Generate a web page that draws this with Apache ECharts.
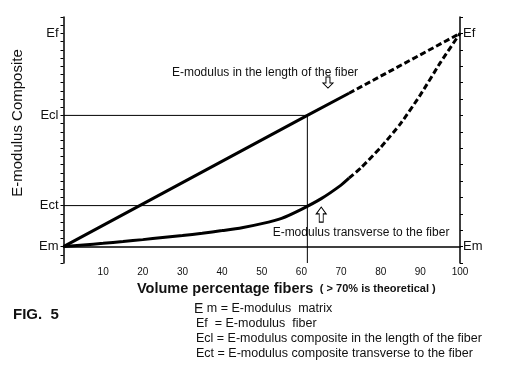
<!DOCTYPE html>
<html><head><meta charset="utf-8">
<script src="https://cdn.jsdelivr.net/npm/echarts@6/dist/echarts.min.js"></script>
<style>html,body{margin:0;padding:0;background:#fff}#c{width:523px;height:373px}</style>
</head><body><div id="c"></div>
<script>
// ---- data ----
const yLeftLabels = {0: 'Em', 5: 'Ect', 16: 'Ecl', 26: 'Ef'};
const yRightLabels = {0: 'Em', 26: 'Ef'};
const xTickLabels = [10, 20, 30, 40, 50, 60, 70, 80, 90, 100];
const longitudinalSolid = [[0, 0], [61.5, 16], [72, 18.7]];
const longitudinalDashed = [[72, 18.7], [100, 26]];
const transverseSolid = [[0, 0], [5, 0.2], [10, 0.4], [15, 0.62], [20, 0.85], [25, 1.1], [30, 1.35], [35, 1.63], [40, 1.95], [45, 2.3], [50, 2.8], [55, 3.45], [60, 4.55], [65, 5.85], [70, 7.5], [72, 8.34]];
const transverseDashed = [[72, 8.34], [75, 9.6], [80, 12.1], [85, 15.0], [90, 18.5], [95, 22.4], [100, 26]];
const eclGuide = [[0, 16], [61.5, 16], [61.5, -2]];
const ectGuide = [[0, 5], [61.5, 5]];
const arrowLongitudinal = [66.7, 20.0];
const arrowTransverse = [65, 3.9];

const FONT = "'Liberation Sans', Arial, sans-serif";
const arrowPath = 'path://M3,0 L7,0 L7,6 L10,6 L5,11 L0,6 L3,6 Z';

const chart = echarts.init(document.getElementById('c'), null, {renderer: 'canvas'});
const lineBase = {type: 'line', symbol: 'none', silent: true, z: 3};
chart.setOption({
  animation: false,
  backgroundColor: '#fff',
  grid: {left: 63.5, right: 63, top: 17, bottom: 110, containLabel: false},
  xAxis: {
    type: 'value', min: 0, max: 100, interval: 10,
    axisLine: {lineStyle: {color: '#000', width: 1.5}},
    axisTick: {show: false},
    splitLine: {show: false},
    axisLabel: {
      color: '#111', fontSize: 10, fontFamily: FONT, margin: 4,
      formatter: v => xTickLabels.indexOf(v) >= 0 ? String(v) : ''
    }
  },
  yAxis: [{
    type: 'value', min: -2, max: 28, interval: 1, position: 'left',
    axisLine: {show: true, lineStyle: {color: '#000', width: 1.5}},
    axisTick: {show: true, length: 3, lineStyle: {color: '#000'}},
    splitLine: {show: false},
    axisLabel: {
      color: '#111', fontSize: 13, fontFamily: FONT, margin: 5,
      formatter: v => yLeftLabels[v] || ''
    }
  }, {
    type: 'value', min: -2, max: 28, interval: 2, position: 'right',
    axisLine: {show: true, lineStyle: {color: '#000', width: 1.5}},
    axisTick: {show: true, length: 3, lineStyle: {color: '#000'}},
    splitLine: {show: false},
    axisLabel: {
      color: '#111', fontSize: 13, fontFamily: FONT, margin: 3,
      formatter: v => yRightLabels[v] || ''
    }
  }],
  series: [
    Object.assign({}, lineBase, {data: eclGuide, lineStyle: {color: '#000', width: 1}, z: 2}),
    Object.assign({}, lineBase, {data: ectGuide, lineStyle: {color: '#000', width: 1}, z: 2}),
    Object.assign({}, lineBase, {data: longitudinalSolid, lineStyle: {color: '#000', width: 3}}),
    Object.assign({}, lineBase, {data: longitudinalDashed, lineStyle: {color: '#000', width: 3, type: [6, 3]}}),
    Object.assign({}, lineBase, {data: transverseSolid, smooth: 0.2, lineStyle: {color: '#000', width: 3}}),
    Object.assign({}, lineBase, {data: transverseDashed, smooth: 0.2, lineStyle: {color: '#000', width: 3, type: [6, 3]},
      markPoint: {
        silent: true, animation: false,
        data: [
          {coord: arrowLongitudinal, symbol: arrowPath, symbolSize: [10, 11], symbolRotate: 0,
           itemStyle: {color: '#fff', borderColor: '#000', borderWidth: 1}, label: {show: false}},
          {coord: arrowTransverse, symbol: arrowPath, symbolSize: [10, 15], symbolRotate: 180,
           itemStyle: {color: '#fff', borderColor: '#000', borderWidth: 1}, label: {show: false}}
        ]
      }})
  ],
  graphic: [
    {type: 'text', x: 18, y: 123, rotation: Math.PI / 2,
     style: {text: 'E-modulus Composite', font: '15px ' + FONT, fill: '#111', align: 'center', verticalAlign: 'middle'}},
    {type: 'text', x: 265, y: 73,
     style: {text: 'E-modulus in the length of the fiber', font: '12px ' + FONT, fill: '#111', align: 'center', verticalAlign: 'middle'}},
    {type: 'text', x: 361, y: 233,
     style: {text: 'E-modulus transverse to the fiber', font: '12px ' + FONT, fill: '#111', align: 'center', verticalAlign: 'middle'}},
    {type: 'text', x: 137, y: 289,
     style: {text: '{a|Volume percentage fibers}  {b|( > 70% is theoretical )}', verticalAlign: 'middle',
       rich: {a: {font: 'bold 14.5px ' + FONT, fill: '#111'}, b: {font: 'bold 11px ' + FONT, fill: '#111'}}}},
    {type: 'text', x: 13, y: 315,
     style: {text: 'FIG.  5', font: 'bold 15px ' + FONT, fill: '#111', verticalAlign: 'middle'}},
    {type: 'text', x: 194, y: 309,
     style: {text: '{e|E}{s| m = E-modulus  matrix}', verticalAlign: 'middle',
       rich: {e: {font: '14px ' + FONT, fill: '#111'}, s: {font: '12.5px ' + FONT, fill: '#111'}}}},
    {type: 'text', x: 196, y: 324,
     style: {text: 'Ef  = E-modulus  fiber', font: '12.5px ' + FONT, fill: '#111', verticalAlign: 'middle'}},
    {type: 'text', x: 196, y: 339,
     style: {text: 'Ecl = E-modulus composite in the length of the fiber', font: '12.5px ' + FONT, fill: '#111', verticalAlign: 'middle'}},
    {type: 'text', x: 196, y: 354,
     style: {text: 'Ect = E-modulus composite transverse to the fiber', font: '12.5px ' + FONT, fill: '#111', verticalAlign: 'middle'}}
  ]
});
</script>
</body></html>
